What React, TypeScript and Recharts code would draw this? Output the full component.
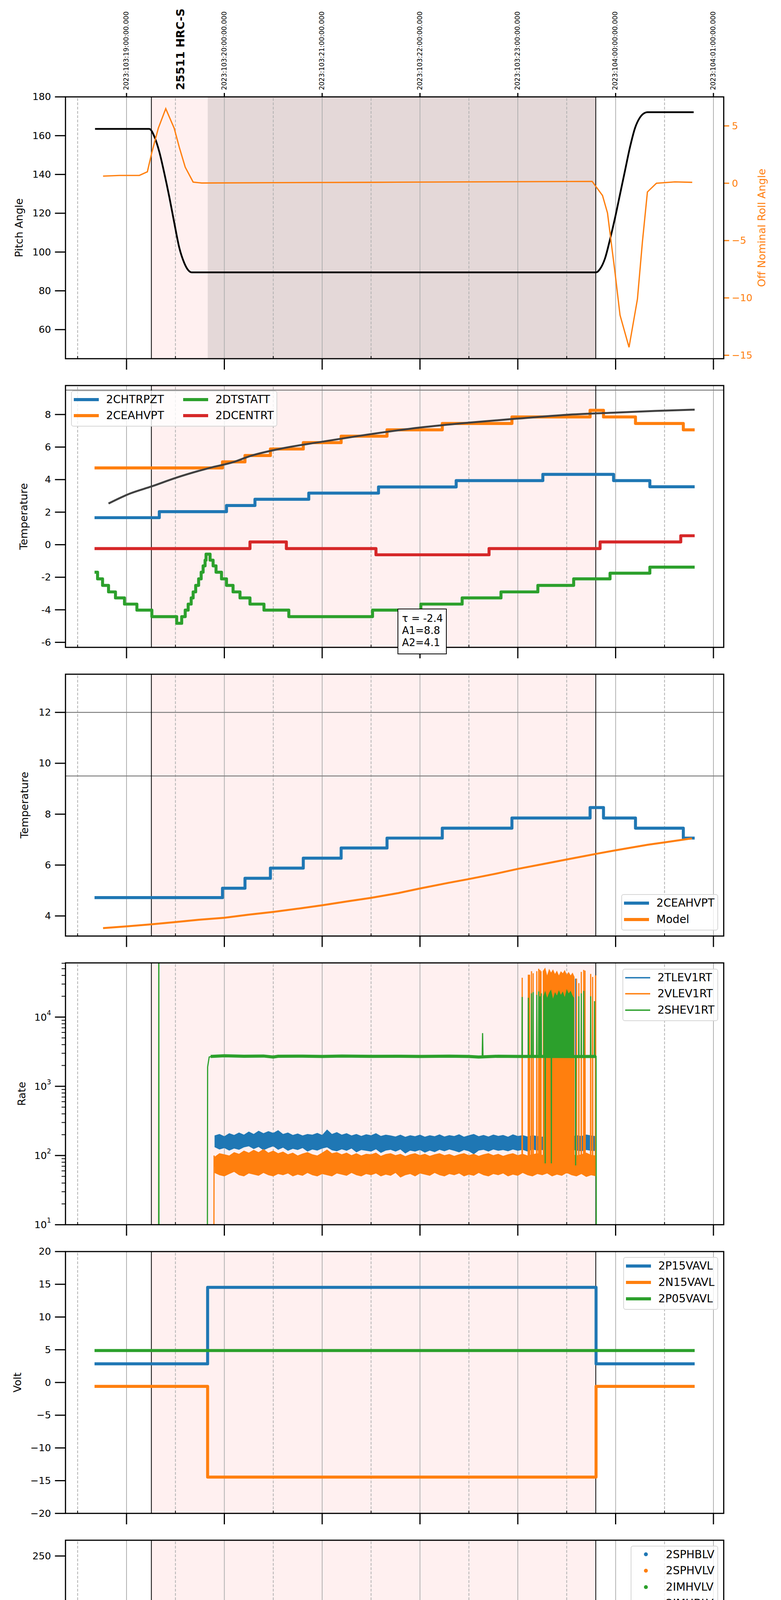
import React from 'react';
import { ComposedChart, Line, Area, Scatter, XAxis, YAxis, ReferenceLine, ReferenceArea, Legend } from 'recharts';

const FONT = "'DejaVu Sans', 'Liberation Sans', sans-serif";
const BLUE = '#1f77b4';
const ORANGE = '#ff7f0e';
const GREEN = '#2ca02c';
const RED = '#d62728';
const GRID = '#b0b0b0';
const PINK = '#fff0f0';
const DWELL = '#e4d8d8';

// ---------- shared time axis (hours of 2023-04-13) ----------
const X_DOMAIN: [number, number] = [14.376, 21.105];
const hourTicks = [15, 16, 17, 18, 19, 20, 21];
const hourLabels = ['15h', '16h', '17h', '18h', '19h', '20h', '21h'];
const halfTicks = [14.5, 15.5, 16.5, 17.5, 18.5, 19.5, 20.5];
const halfLabel = '30';
const bottomTicks = [14.5, 15, 15.5, 16, 16.5, 17, 17.5, 18, 18.5, 19, 19.5, 20, 20.5, 21];
const topTickLabels = [
  '2023:103:19:00:00.000', '2023:103:20:00:00.000', '2023:103:21:00:00.000', '2023:103:22:00:00.000',
  '2023:103:23:00:00.000', '2023:104:00:00:00.000', '2023:104:01:00:00.000',
];
const obsLabelX = 15.553;
const obsLabelText = '25511 HRC-S';
const obsStart = 15.254;
const obsEnd = 19.797;
const dwellStart = 15.83;
const xLabelText = '2023-04-13 (103)';

// ---------- panel 1: pitch / roll ----------
const pitchAngle = [[14.678,163.5],[15.233,163.5],[15.284,159.6],[15.335,151.7],[15.386,140.7],[15.437,128.5],[15.488,115.1],[15.539,102.3],[15.59,94.4],[15.63,90.7],[15.666,89.5],[19.8,89.5],[19.841,91.3],[19.892,96.8],[19.943,106.6],[19.994,117.6],[20.045,129.8],[20.096,142.0],[20.147,154.1],[20.198,163.9],[20.249,169.4],[20.3,171.8],[20.325,172.1],[20.798,172.1]];
const rollAngle = [[14.76,0.62],[14.93,0.68],[15.131,0.68],[15.213,1.0],[15.259,2.7],[15.325,4.8],[15.401,6.5],[15.487,4.8],[15.539,3.15],[15.6,1.4],[15.681,0.1],[15.768,0.02],[16.5,0.05],[17.5,0.08],[18.5,0.12],[19.76,0.16],[19.866,-1.07],[19.917,-2.6],[19.994,-7.8],[20.045,-11.5],[20.137,-14.3],[20.223,-10.1],[20.274,-5.1],[20.325,-0.76],[20.417,0.0],[20.605,0.12],[20.783,0.08]];
const pitchTicks = [60, 80, 100, 120, 140, 160, 180];
const rollTicks = [-15, -10, -5, 0, 5];

// ---------- panel 2: temperatures ----------
const chtrpzt = [[14.673,1.66],[15.335,2.03],[16.022,2.41],[16.313,2.79],[16.863,3.17],[17.576,3.55],[18.37,3.94],[19.256,4.32],[19.979,3.94],[20.35,3.56],[20.808,3.56]];
const ceahvpt = [[14.673,4.72],[15.981,5.09],[16.211,5.48],[16.471,5.88],[16.807,6.27],[17.194,6.67],[17.663,7.06],[18.228,7.45],[18.94,7.85],[19.739,8.26],[19.876,7.85],[20.203,7.45],[20.692,7.06],[20.808,7.06]];
const dtstatt = [[14.673,-1.69],[14.704,-2.1],[14.755,-2.5],[14.816,-2.9],[14.887,-3.27],[14.979,-3.65],[15.106,-4.02],[15.259,-4.42],[15.513,-4.83],[15.564,-4.42],[15.6,-4.02],[15.63,-3.65],[15.661,-3.27],[15.681,-2.9],[15.707,-2.5],[15.737,-2.1],[15.763,-1.69],[15.783,-1.3],[15.803,-0.95],[15.813,-0.58],[15.854,-0.95],[15.885,-1.3],[15.915,-1.69],[15.971,-2.1],[16.022,-2.5],[16.089,-2.9],[16.16,-3.27],[16.262,-3.65],[16.405,-4.02],[16.659,-4.42],[17.515,-4.02],[18.009,-3.65],[18.431,-3.27],[18.828,-2.9],[19.205,-2.5],[19.571,-2.1],[19.943,-1.75],[20.35,-1.38],[20.808,-1.38]];
const dcentrt = [[14.673,-0.24],[16.262,0.17],[16.634,-0.24],[17.55,-0.62],[18.706,-0.24],[19.841,0.17],[20.666,0.55],[20.808,0.55]];
const fitCurve = [[14.816,2.53],[15.03,3.13],[15.26,3.59],[15.5,4.1],[15.85,4.72],[16.1,5.09],[16.25,5.42],[16.56,5.88],[16.96,6.29],[17.37,6.68],[18.0,7.2],[18.5,7.5],[19.0,7.75],[19.5,7.98],[20.0,8.12],[20.4,8.22],[20.808,8.3]];
const p2Ticks = [-6, -4, -2, 0, 2, 4, 6, 8];
const p2Limit = 9.5;
const fitText = ['\u03c4 = -2.4', 'A1=8.8', 'A2=4.1'];

// ---------- panel 3: model ----------
const modelCurve = [[14.76,3.52],[15.0,3.59],[15.254,3.67],[15.5,3.76],[15.742,3.85],[16.0,3.93],[16.25,4.05],[16.5,4.16],[16.76,4.29],[17.0,4.42],[17.27,4.58],[17.5,4.71],[17.78,4.9],[18.0,5.08],[18.29,5.3],[18.5,5.45],[18.8,5.68],[19.0,5.85],[19.3,6.07],[19.5,6.22],[19.8,6.44],[20.0,6.58],[20.33,6.8],[20.5,6.89],[20.78,7.05]];
const p3Ticks = [4, 6, 8, 10, 12];
const p3Limits = [12, 9.5];

// ---------- panel 4: rates (log) ----------
const rateT = [15.90,15.95,16.00,16.05,16.10,16.15,16.20,16.25,16.30,16.35,
  16.40,16.45,16.50,16.55,16.60,16.65,16.70,16.75,16.80,16.85,
  16.90,16.95,17.00,17.05,17.10,17.15,17.20,17.25,17.30,17.35,
  17.40,17.45,17.50,17.55,17.60,17.65,17.70,17.75,17.80,17.85,
  17.90,17.95,18.00,18.05,18.10,18.15,18.20,18.25,18.30,18.35,
  18.40,18.45,18.50,18.55,18.60,18.65,18.70,18.75,18.80,18.85,
  18.90,18.95,19.00,19.05,19.10,19.15,19.20,19.25,19.30,19.35,
  19.40,19.45,19.50,19.55,19.60,19.65,19.70,19.75,19.80];
const tlevHi = [195,205,190,210,198,215,200,222,205,228,
  210,225,212,232,205,215,198,208,195,205,
  200,212,198,238,205,218,200,210,195,205,
  192,203,196,210,192,200,195,188,200,186,
  196,190,200,187,196,190,202,188,197,191,
  203,187,196,205,190,198,188,201,192,198,
  187,202,191,197,188,196,191,187,197,190,
  186,196,190,187,197,191,201,195,190];
const tlevLo = [132,122,128,118,126,121,131,136,124,133,
  119,128,136,121,130,117,125,120,128,114,
  122,118,126,131,119,115,123,117,126,111,
  120,117,114,123,109,118,121,114,122,107,
  118,114,120,110,118,112,121,115,122,117,
  111,120,115,104,118,121,114,122,117,120,
  115,122,117,121,114,122,118,120,115,122,
  117,121,114,122,118,115,120,117,116];
const vlevHi = [96,108,104,100,112,106,118,110,121,112,
  124,110,118,108,114,104,110,100,107,112,
  104,100,110,122,108,112,104,110,101,108,
  100,106,104,110,99,105,108,101,106,98,
  104,108,101,106,99,104,108,101,105,99,
  104,108,101,106,99,104,108,101,106,99,
  104,108,101,106,100,104,108,102,106,100,
  104,108,102,106,100,104,110,102,100];
const vlevLo = [56,52,50,54,58,52,50,55,53,51,
  56,52,50,54,52,55,50,53,51,56,
  52,50,54,52,50,55,53,51,56,52,
  50,54,52,55,50,53,51,56,48,52,
  54,50,55,53,51,56,52,50,54,52,
  55,50,53,51,56,52,50,54,52,55,
  50,53,51,56,52,50,54,52,55,50,
  53,51,56,52,50,54,49,52,50];
const shevBase = [[15.86,2700],[16.0,2760],[16.2,2720],[16.4,2740],[16.5,2650],[16.55,2720],[16.8,2730],[17.0,2700],[17.2,2740],[17.5,2710],[17.8,2720],[18.0,2700],[18.3,2730],[18.5,2700],[18.6,2650],[18.8,2720],[19.0,2700],[19.3,2700],[19.6,2690],[19.8,2700]];
const shevSpikes = [[15.328,1],[15.33,1e6],[15.332,1],[15.826,1],[15.829,1900],[15.845,2650],[15.87,2700],
  [18.636,2700],[18.64,5860],[18.644,2700],
  [19.043,2700],[19.045,19500],[19.047,2700],[19.106,2700],[19.108,19000],[19.11,2700],
  [19.138,2700],[19.14,22000],[19.142,2700],[19.155,2700],[19.157,23000],[19.159,2700],
  [19.192,2700],[19.194,21000],[19.196,2700],[19.212,2700],[19.214,23500],[19.216,2700],
  [19.225,2700],[19.227,20000],[19.229,2700],[19.238,2700],[19.24,22000],[19.242,2700],
  [19.278,2700],[19.28,77],[19.282,2700],[19.341,2700],[19.343,77],[19.345,2700],
  [19.589,2700],[19.591,72],[19.593,2700],[19.622,2700],[19.624,20000],[19.626,2700],
  [19.647,2700],[19.649,22000],[19.651,2700],[19.672,2700],[19.674,24000],[19.676,2700],
  [19.743,2700],[19.745,20000],[19.747,2700],[19.783,2700],[19.785,17000],[19.787,2700],
  [19.8,2700],[19.803,1]];
const shevBlock = [[19.26,2700,20000],[19.28,2700,24000],[19.30,2700,19000],[19.32,2700,22500],[19.34,2700,25000],[19.36,2700,18500],[19.38,2700,23000],[19.40,2700,20500],[19.42,2700,24500],[19.44,2700,21000],[19.46,2700,23500],[19.48,2700,19500],[19.50,2700,25500],[19.52,2700,22000],[19.54,2700,24000],[19.56,2700,20500],[19.575,2700,19000]];
const vlevBlock = [[19.255,55,46000],[19.28,55,52000],[19.30,55,40000],[19.32,55,50000],[19.34,55,44000],[19.36,55,49000],[19.38,55,42000],[19.40,55,47000],[19.42,55,40000],[19.44,55,46000],[19.46,55,43000],[19.48,55,48000],[19.50,55,41000],[19.52,55,45000],[19.54,55,40000],[19.56,55,44000],[19.58,55,38000]];
const vlevSpikes = [[15.892,1],[15.895,100],[15.898,70],
  [19.043,80],[19.045,37000],[19.047,80],[19.106,80],[19.108,41000],[19.11,80],[19.118,80],[19.12,41000],[19.122,80],
  [19.138,80],[19.14,46000],[19.142,80],[19.155,80],[19.157,43000],[19.159,80],[19.192,80],[19.194,46000],[19.196,80],
  [19.212,80],[19.214,50000],[19.216,80],[19.225,80],[19.227,48000],[19.229,80],[19.235,80],[19.237,46000],[19.239,80],
  [19.598,80],[19.6,36000],[19.602,80],[19.622,80],[19.624,31000],[19.626,80],[19.647,80],[19.649,45000],[19.651,80],
  [19.672,80],[19.674,48000],[19.676,80],[19.685,80],[19.687,47000],[19.689,80],[19.743,80],[19.745,42000],[19.747,80],
  [19.763,80],[19.765,38000],[19.767,80],[19.793,80],[19.795,40000],[19.797,60]];
const tlevSpikes = [[19.588,180],[19.59,36000],[19.592,180]];
const logTicks = [10,20,30,40,50,60,70,80,90,100,200,300,400,500,600,700,800,900,1000,2000,3000,4000,5000,6000,7000,8000,9000,10000,20000,30000,40000,50000,60000];
const logMajor = [10, 100, 1000, 10000];

// ---------- panel 5: voltages ----------
const p15vavl = [[14.673,2.85],[15.829,14.53],[19.8,2.85],[20.808,2.85]];
const n15vavl = [[14.673,-0.6],[15.829,-14.45],[19.8,-0.6],[20.808,-0.6]];
const p05vavl = [[14.673,4.88],[20.808,4.88]];
const p5Ticks = [-20, -15, -10, -5, 0, 5, 10, 15, 20];

// ---------- panel 6: HV monitor ----------
const sphblvBand = [[15.895,77.3],[19.8,77.3]];
const sphblvPts = [[15.853,118],[15.857,102],[15.859,101],[15.864,97],[15.868,92],[15.873,87],[15.878,82],[15.884,79]];
const sphvlvBand = [[15.89,70.7],[19.8,70.7]];
const sphvlvPts = [[15.849,127],[15.85,125],[15.851,123],[15.856,96],[15.861,91],[15.866,86],[15.871,80],[15.876,75],
  [19.119,127],[19.135,127],[19.15,127],[19.17,127],[19.185,127],[19.2,127],[19.215,127],[19.23,127],[19.25,127],[19.27,127],
  [19.29,127],[19.31,127],[19.33,127],[19.35,127],[19.37,127],[19.39,127],[19.41,127],[19.43,127],[19.45,127],[19.627,127],[19.76,127]];
const p6Ticks = [0, 50, 100, 150, 200, 250];

// ---------- panel 7: detector temps ----------
const spinatm = [[15.854,7.07],[15.885,6.53],[15.915,6.05],[15.956,5.55],[15.991,5.09],[16.048,4.6],[16.109,4.15],[16.195,3.7],[16.297,3.26],[16.481,2.82],[16.858,2.35],[19.077,2.82],[19.79,2.82]];
const spinBlock = [[19.042,-3,2.82],[19.79,-3,2.82]];
const sphvatm = [[15.829,13.7],[15.835,14.13],[15.981,14.45],[16.048,14.75],[16.114,15.01],[16.19,15.27],[16.252,15.56],[16.328,15.82],[16.415,16.1],[16.506,16.39],[16.608,16.67],[16.751,16.96],[16.878,17.25],[17.031,17.54],[17.215,17.83],[17.459,18.11],[17.677,18.41],[17.92,18.72],[17.925,18.41],[17.958,18.69],[18.324,18.97],[18.823,19.28],
  [19.042,10.4],[19.047,19.57],[19.103,10.4],[19.108,19.57],[19.128,10.4],[19.133,19.57],[19.153,10.4],[19.158,19.57],[19.194,10.4],[19.199,19.57],[19.23,10.4],[19.235,19.57],[19.281,2.8],[19.285,19.57],[19.587,2.8],[19.591,19.57],[19.765,10.4],[19.77,19.57],[19.79,19.57]];
const sphvBlock = [[19.255,10.45,19.57],[19.536,10.45,19.57],[19.537,19.57,19.57],[19.56,19.57,19.57],[19.561,10.45,19.57],[19.689,10.45,19.57]];
const iminatm = [[15.829,-0.22],[16.497,0.23],[18.671,0.65],[19.79,0.65]];
const iminBlock = [[19.042,0.65,2.82],[19.79,0.65,2.82]];
const imhvatm = [[15.826,-5],[15.829,13.59],[16.302,13.88],[16.593,14.17],[16.924,14.43],[17.245,14.73],[17.612,14.99],[18.009,15.27],[18.37,15.6],[18.375,15.27],[18.492,15.56],
  [19.045,19.4],[19.05,15.86],[19.103,19.55],[19.108,15.86],[19.128,19.55],[19.133,15.86],[19.57,19.55],[19.575,15.86],[19.6,19.55],[19.605,15.86],[19.625,19.55],[19.63,15.86],[19.66,19.55],[19.665,15.86],[19.69,19.55],[19.695,15.86],[19.714,16.12],[19.8,25],[19.803,-5],[19.81,-5]];
const imhvBlock = [[19.18,15.86,19.55],[19.54,15.86,19.55]];
const p7Ticks = [0, 2.5, 5, 7.5, 10, 12.5, 15, 17.5, 20];

// ---------- panel 8: FEA temps ----------
const fhtrmzt = [[14.673,-8.81],[16.042,-8.38],[16.2,-7.98],[16.369,-7.58],[16.532,-7.17],[16.695,-6.77],[16.863,-6.38],[17.041,-5.98],[17.22,-5.58],[17.398,-5.19],[17.601,-4.8],[17.795,-4.42],[17.999,-4.02],[18.212,-3.65],[18.431,-3.26],[18.656,-2.88],[18.884,-2.51],[19.128,-2.14],[19.357,-1.76],[19.612,-1.38],[20.386,-1.75],[20.808,-1.75]];
const fradpyt = [[14.673,-10.49],[15.64,-11.3],[16.15,-10.49],[16.338,-10.05],[16.522,-9.63],[16.71,-9.22],[16.904,-8.8],[17.108,-8.4],[17.306,-7.98],[17.525,-7.58],[17.739,-7.17],[17.958,-6.77],[18.202,-6.38],[18.452,-5.98],[18.696,-5.58],[18.95,-5.19],[19.23,-4.8],[19.51,-4.44],[19.79,-4.04],[20.086,-3.66],[20.35,-4.04],[20.808,-4.04]];
const fepratm = [[15.844,-7.43],[15.88,-6.94],[15.915,-6.57],[15.961,-6.17],[16.022,-5.78],[16.094,-5.37],[16.185,-5.0],[16.297,-4.61],[16.43,-4.19],[16.557,-3.8],[16.705,-3.42],[16.873,-3.01],[17.041,-2.61],[17.23,-2.22],[17.434,-1.8],[17.637,-1.39],[17.841,-0.99],[18.08,-0.6],[18.315,-0.17],[18.57,0.26],[18.833,0.66],
  [19.032,-4.66],[19.038,1.2],[19.092,-4.66],[19.098,1.2],[19.117,-4.66],[19.123,1.2],[19.152,-4.66],[19.158,1.2],[19.192,-4.66],[19.198,1.2],[19.227,-4.66],[19.233,1.2],
  [19.255,-4.66],[19.51,1.2],[19.557,-4.66],[19.563,1.2],[19.587,-4.66],[19.593,1.2],[19.617,-4.66],[19.623,1.2],[19.657,-4.66],[19.663,1.2],[19.707,-4.66],[19.713,1.2],[19.737,-4.66],[19.743,1.2],[19.762,-4.66],[19.766,1.2]];
const feprBlock = [[19.255,-4.66,1.5],[19.51,-4.66,1.5]];
const fe00atm = [[15.826,-12],[15.829,-6.72],[15.971,-6.34],[16.064,-5.58],[16.069,-6.34],[16.109,-5.97],[16.185,-7.13],[16.19,-5.97],[16.2,-5.6],[16.302,-5.22],[16.364,-4.5],[16.369,-5.22],[16.415,-4.87],[16.532,-4.51],[16.634,-5.3],[16.639,-4.51],[16.659,-4.16],[16.675,-3.8],[16.68,-4.16],[16.787,-3.82],[16.914,-3.47],[17.052,-3.12],[17.108,-3.9],[17.113,-3.12],[17.194,-2.79],[17.347,-2.45],[17.484,-2.11],[17.637,-1.77],[17.663,-2.5],[17.668,-1.77],[17.754,-1.4],[17.759,-1.77],[17.82,-1.45],[17.88,-1.1],[17.885,-1.45],[17.973,-1.12],[18.146,-0.8],[18.212,-0.45],[18.217,-0.8],[18.228,-1.85],[18.233,-0.8],[18.329,-0.47],[18.518,-0.15],[18.686,0.17],[18.889,0.49],[19.042,2.5],[19.047,0.8],[19.1,2.5],[19.105,0.8],[19.145,0.1],[19.15,0.8],[19.18,1.05],[19.281,-12],[19.286,1.05],[19.587,-12],[19.592,1.05],[19.72,1.6],[19.8,-12],[19.81,-12]];
const fe00Block = [[19.18,1.05,2.5],[19.72,1.05,2.5]];
const p8Ticks = [-10, -8, -6, -4, -2, 0];

// ---------- layout ----------
const PLOT_LEFT = 167.7;
const RIGHT_M = 146.7;
const PLOT_H = 670.3;
const TOP0 = 248;
const STEP = 738.9;
const MT = 20;
const XH = 40;
const LW = 7.7;

const xy = (a: number[][]) => a.map(([x, y]) => ({ x, y }));
const band = (a: number[][]) => a.map(([x, lo, hi]) => ({ x, y: [lo, hi] }));
const bandFrom = (t: number[], lo: number[], hi: number[]) => t.map((x, i) => ({ x, y: [lo[i], hi[i]] }));

const fmtPlain = (v: number) => String(v);
const fmtMinus = (v: number) => (v < 0 ? '\u2212' + String(-v) : String(v));
const fmtOne = (v: number) => v.toFixed(1);
const fmtLog = (v: number) => [
  <tspan key="b">10</tspan>,
  <tspan key="e" dy={-11} fontSize={17}>{String(Math.round(Math.log10(v)))}</tspan>,
];

function XTickBottom(props: any) {
  const { x, y, payload, showLabels } = props;
  const v: number = payload.value;
  const hi = hourTicks.indexOf(v);
  const major = hi >= 0;
  return (
    <g>
      {major
        ? <line x1={x} x2={x} y1={y} y2={y + 28} stroke="#000" strokeWidth={3} />
        : <line x1={x} x2={x} y1={y - 7} y2={y} stroke="#000" strokeWidth={2} />}
      {showLabels ? (major
        ? <text x={x} y={y + 60} textAnchor="middle" fontSize={29} fontFamily={FONT} fill="#000">{hourLabels[hi]}</text>
        : <text x={x} y={y + 21} textAnchor="middle" fontSize={17} fontFamily={FONT} fill="#000">{halfLabel}</text>) : null}
    </g>
  );
}

function XTickTop(props: any) {
  const { x, y, payload } = props;
  const v: number = payload.value;
  const idx = hourTicks.indexOf(v);
  if (idx < 0) {
    return (
      <text transform={`translate(${x},${y - 17.5}) rotate(-90)`} textAnchor="start" dominantBaseline="central"
        fontSize={28.5} fontWeight="bold" fontFamily={FONT} fill="#000">{obsLabelText}</text>
    );
  }
  return (
    <g>
      <line x1={x} x2={x} y1={y - 10} y2={y} stroke="#000" strokeWidth={3} />
      <text transform={`translate(${x - 1},${y - 17.5}) rotate(-90)`} textAnchor="start" dominantBaseline="central"
        fontSize={17} fontFamily={FONT} fill="#000">{topTickLabels[idx]}</text>
    </g>
  );
}

function YTickLeft(props: any) {
  const { x, y, payload, fmt, minorFn } = props;
  const v: number = payload.value;
  const minor = minorFn ? minorFn(v) : false;
  return (
    <g>
      <line x1={x - (minor ? 10 : 27)} x2={x} y1={y} y2={y} stroke="#000" strokeWidth={minor ? 2 : 3} />
      {!minor && (
        <text x={x - 37} y={y} textAnchor="end" dominantBaseline="central" fontSize={25} fontFamily={FONT} fill="#000">{fmt(v)}</text>
      )}
    </g>
  );
}

function YTickRight(props: any) {
  const { x, y, payload } = props;
  const v: number = payload.value;
  return (
    <g>
      <line x1={x} x2={x + 14} y1={y} y2={y} stroke={ORANGE} strokeWidth={3} />
      <text x={x + 21} y={y} textAnchor="start" dominantBaseline="central" fontSize={25} fontFamily={FONT} fill={ORANGE}>{fmtMinus(v)}</text>
    </g>
  );
}

function AxisTitle(props: any) {
  const { tx, ty, text, color } = props;
  return (
    <text x={tx} y={ty} transform={`rotate(-90 ${tx} ${ty})`} textAnchor="middle" dominantBaseline="central"
      fontSize={27} fontFamily={FONT} fill={color || '#000'}>{text}</text>
  );
}

function PlainText(props: any) {
  const { tx, ty, text, size } = props;
  return <text x={tx} y={ty} textAnchor="middle" fontSize={size} fontFamily={FONT} fill="#000">{text}</text>;
}

type LegendItem = { label: string; color: string; kind?: 'line' | 'dot'; lw?: number };

function LegendBox({ items, rows }: { items: LegendItem[]; rows?: number }) {
  const multi = rows !== undefined;
  return (
    <div style={{
      display: 'grid',
      gridAutoFlow: multi ? 'column' : 'row',
      gridTemplateRows: multi ? `repeat(${rows}, 41.8px)` : undefined,
      gridAutoRows: '41.8px',
      columnGap: 49,
      padding: '0px 7px 5px 5px',
      border: '2px solid #d6d6d6',
      borderRadius: 6,
      background: 'rgba(255,255,255,0.8)',
      fontFamily: FONT,
      fontSize: 28,
      color: '#000',
      whiteSpace: 'nowrap',
    }}>
      {items.map((it) => (
        <div key={it.label} style={{ display: 'flex', alignItems: 'center', height: 41.8 }}>
          <svg width={64} height={20} style={{ flex: 'none', marginRight: 18.7, display: 'block' }}>
            {it.kind === 'dot'
              ? <circle cx={32} cy={10} r={5} fill={it.color} />
              : <line x1={0} x2={64} y1={10} y2={10} stroke={it.color} strokeWidth={it.lw ?? 8} />}
          </svg>
          <span style={{ lineHeight: '41.8px' }}>{it.label}</span>
        </div>
      ))}
    </div>
  );
}

function legendAt(pos: React.CSSProperties, items: LegendItem[], rows?: number) {
  return (
    <Legend key="lg" layout="vertical" align="center" verticalAlign="middle"
      wrapperStyle={{ left: 'auto', right: 'auto', top: 'auto', bottom: 'auto', width: 'auto', height: 'auto', margin: 0, padding: 0, lineHeight: 'normal', ...pos }}
      content={() => <LegendBox items={items} rows={rows} />} />
  );
}

function backLayers(yId: string | number, dwell: boolean) {
  const els: React.ReactElement[] = [
    <ReferenceArea key="obs" yAxisId={yId} x1={obsStart} x2={obsEnd} fill={PINK} fillOpacity={1} stroke="none" ifOverflow="visible" zIndex={-300} />,
  ];
  if (dwell) {
    els.push(<ReferenceArea key="dwell" yAxisId={yId} x1={dwellStart} x2={obsEnd} fill={DWELL} fillOpacity={1} stroke="none" ifOverflow="visible" zIndex={-300} />);
  }
  hourTicks.forEach((h) => els.push(
    <ReferenceLine key={'h' + h} yAxisId={yId} x={h} stroke={GRID} strokeWidth={2} zIndex={-200} />));
  halfTicks.forEach((h) => els.push(
    <ReferenceLine key={'m' + h} yAxisId={yId} x={h} stroke={GRID} strokeWidth={2} strokeDasharray="7 4" zIndex={-200} />));
  [obsStart, obsEnd].forEach((h) => els.push(
    <ReferenceLine key={'b' + h} yAxisId={yId} x={h} stroke="#000" strokeWidth={2} zIndex={-100} />));
  return els;
}

function frame(yId: string | number) {
  return <ReferenceArea key="frame" yAxisId={yId} x1={X_DOMAIN[0]} x2={X_DOMAIN[1]} fill="none" stroke="#000" strokeWidth={3} ifOverflow="visible" zIndex={3000} />;
}

function bottomAxis(showLabels: boolean, height: number, label?: React.ReactElement) {
  return (
    <XAxis key="xb" xAxisId={0} orientation="bottom" dataKey="x" type="number" domain={X_DOMAIN} allowDataOverflow
      ticks={bottomTicks} interval={0} height={height} axisLine={false} tickLine={false} tickSize={0} tickMargin={0}
      tick={(p: any) => <XTickBottom {...p} showLabels={showLabels} />} label={label} />
  );
}

function leftAxis(o: { domain: [number, number]; ticks: number[]; fmt: (v: number) => any; title: string; titleX: number; mt: number; id?: string | number; log?: boolean; minor?: (v: number) => boolean }) {
  return (
    <YAxis key="yl" yAxisId={o.id ?? 0} orientation="left" type="number" scale={o.log ? 'log' : 'linear'} domain={o.domain} allowDataOverflow
      ticks={o.ticks} interval={0} width={PLOT_LEFT} axisLine={false} tickLine={false} tickSize={0} tickMargin={0}
      tick={(p: any) => <YTickLeft {...p} fmt={o.fmt} minorFn={o.minor} />}
      label={<AxisTitle tx={o.titleX} ty={o.mt + PLOT_H / 2} text={o.title} />} />
  );
}

const stepLine = (key: string, data: number[][], color: string, z: number, width = LW) => (
  <Line key={key} data={xy(data)} dataKey="y" type="stepAfter" stroke={color} strokeWidth={width} strokeLinejoin="round"
    dot={false} activeDot={false} isAnimationActive={false} zIndex={z} />
);
const rangeArea = (key: string, data: any[], color: string, z: number) => (
  <Area key={key} data={data} dataKey="y" type="linear" stroke="none" fill={color} fillOpacity={1}
    dot={false} activeDot={false} isAnimationActive={false} zIndex={z} />
);

const chartTop = (k: number) => TOP0 + STEP * k - MT;
const CH = MT + PLOT_H + XH;
const dotShape = (color: string) => (p: any) => <circle cx={p.cx} cy={p.cy} r={5} fill={color} />;

function Panel1() {
  return (
    <ComposedChart width={2000} height={TOP0 + PLOT_H + XH} margin={{ top: 0, right: 0, bottom: 0, left: 0 }} style={{ fontFamily: FONT }}>
      <XAxis xAxisId="top" orientation="top" dataKey="x" type="number" domain={X_DOMAIN} allowDataOverflow
        ticks={[...hourTicks, obsLabelX]} interval={0} height={TOP0} axisLine={false} tickLine={false} tickSize={0} tickMargin={0}
        tick={(p: any) => <XTickTop {...p} />} />
      {bottomAxis(false, XH)}
      {leftAxis({ id: 'left', domain: [45, 180], ticks: pitchTicks, fmt: fmtPlain, title: 'Pitch Angle', titleX: 48.5, mt: TOP0 })}
      <YAxis yAxisId="right" orientation="right" type="number" domain={[-15.3, 7.53]} allowDataOverflow ticks={rollTicks} interval={0}
        width={RIGHT_M} axisLine={false} tickLine={false} tickSize={0} tickMargin={0} tick={(p: any) => <YTickRight {...p} />}
        label={<AxisTitle tx={1951} ty={TOP0 + PLOT_H / 2} text="Off Nominal Roll Angle" color={ORANGE} />} />
      {backLayers('left', true)}
      <Line yAxisId="left" data={xy(pitchAngle)} dataKey="y" type="monotone" stroke="#000" strokeWidth={4.5} dot={false} activeDot={false} isAnimationActive={false} zIndex={401} />
      <Line yAxisId="right" data={xy(rollAngle)} dataKey="y" type="linear" stroke={ORANGE} strokeWidth={3.3} dot={false} activeDot={false} isAnimationActive={false} zIndex={402} />
      {frame('left')}
    </ComposedChart>
  );
}

function Panel2() {
  return (
    <ComposedChart width={2000} height={CH} margin={{ top: MT, right: RIGHT_M, bottom: 0, left: 0 }} style={{ fontFamily: FONT }}>
      {bottomAxis(false, XH)}
      {leftAxis({ domain: [-6.31, 9.78], ticks: p2Ticks, fmt: fmtPlain, title: 'Temperature', titleX: 61, mt: MT })}
      {backLayers(0, false)}
      <ReferenceLine y={p2Limit} stroke="#808080" strokeWidth={2.5} zIndex={-150} />
      {stepLine('chtrpzt', chtrpzt, BLUE, 401)}
      {stepLine('ceahvpt', ceahvpt, ORANGE, 402)}
      {stepLine('dtstatt', dtstatt, GREEN, 403)}
      {stepLine('dcentrt', dcentrt, RED, 404)}
      <Line data={xy(fitCurve)} dataKey="y" type="monotone" stroke="#404040" strokeWidth={5} dot={false} activeDot={false} isAnimationActive={false} zIndex={405} />
      {frame(0)}
      {legendAt({ top: 999.7 - chartTop(1), left: 182 }, [
        { label: '2CHTRPZT', color: BLUE }, { label: '2CEAHVPT', color: ORANGE },
        { label: '2DTSTATT', color: GREEN }, { label: '2DCENTRT', color: RED },
      ], 2)}
    </ComposedChart>
  );
}

function Panel3() {
  return (
    <ComposedChart width={2000} height={CH} margin={{ top: MT, right: RIGHT_M, bottom: 0, left: 0 }} style={{ fontFamily: FONT }}>
      {bottomAxis(false, XH)}
      {leftAxis({ domain: [3.21, 13.5], ticks: p3Ticks, fmt: fmtPlain, title: 'Temperature', titleX: 63, mt: MT })}
      {backLayers(0, false)}
      {p3Limits.map((v) => <ReferenceLine key={'lim' + v} y={v} stroke="#808080" strokeWidth={2.5} zIndex={-150} />)}
      {stepLine('ceahvpt3', ceahvpt, BLUE, 401)}
      <Line data={xy(modelCurve)} dataKey="y" type="linear" stroke={ORANGE} strokeWidth={5} dot={false} activeDot={false} isAnimationActive={false} zIndex={402} />
      {frame(0)}
      {legendAt({ bottom: CH - (2381.6 - chartTop(2)), right: 161.5 }, [
        { label: '2CEAHVPT', color: BLUE }, { label: 'Model', color: ORANGE },
      ])}
    </ComposedChart>
  );
}

function Panel4() {
  return (
    <ComposedChart width={2000} height={CH} margin={{ top: MT, right: RIGHT_M, bottom: 0, left: 0 }} style={{ fontFamily: FONT }}>
      {bottomAxis(false, XH)}
      {leftAxis({ domain: [10, 60700], ticks: logTicks, fmt: fmtLog, title: 'Rate', titleX: 56, mt: MT, log: true, minor: (v) => logMajor.indexOf(v) < 0 })}
      {backLayers(0, false)}
      {rangeArea('tlevBand', bandFrom(rateT, tlevLo, tlevHi), BLUE, 401)}
      <Line data={xy(tlevSpikes)} dataKey="y" type="linear" stroke={BLUE} strokeWidth={2.5} dot={false} activeDot={false} isAnimationActive={false} zIndex={402} />
      {rangeArea('vlevBand', bandFrom(rateT, vlevLo, vlevHi), ORANGE, 403)}
      {rangeArea('vlevBlock', band(vlevBlock), ORANGE, 404)}
      <Line data={xy(vlevSpikes)} dataKey="y" type="linear" stroke={ORANGE} strokeWidth={3} dot={false} activeDot={false} isAnimationActive={false} zIndex={405} />
      {rangeArea('shevBlock', band(shevBlock), GREEN, 406)}
      <Line data={xy(shevBase)} dataKey="y" type="linear" stroke={GREEN} strokeWidth={8} dot={false} activeDot={false} isAnimationActive={false} zIndex={407} />
      <Line data={xy(shevSpikes)} dataKey="y" type="linear" stroke={GREEN} strokeWidth={3} dot={false} activeDot={false} isAnimationActive={false} zIndex={408} />
      {frame(0)}
      {legendAt({ top: 2479.7 - chartTop(3), right: 161.5 }, [
        { label: '2TLEV1RT', color: BLUE, lw: 3.5 }, { label: '2VLEV1RT', color: ORANGE, lw: 3.5 }, { label: '2SHEV1RT', color: GREEN, lw: 3.5 },
      ])}
    </ComposedChart>
  );
}

function Panel5() {
  return (
    <ComposedChart width={2000} height={CH} margin={{ top: MT, right: RIGHT_M, bottom: 0, left: 0 }} style={{ fontFamily: FONT }}>
      {bottomAxis(false, XH)}
      {leftAxis({ domain: [-20, 20], ticks: p5Ticks, fmt: fmtMinus, title: 'Volt', titleX: 45, mt: MT })}
      {backLayers(0, false)}
      {stepLine('p15', p15vavl, BLUE, 401)}
      {stepLine('n15', n15vavl, ORANGE, 402)}
      {stepLine('p05', p05vavl, GREEN, 403)}
      {frame(0)}
      {legendAt({ top: 3218.4 - chartTop(4), right: 161.5 }, [
        { label: '2P15VAVL', color: BLUE }, { label: '2N15VAVL', color: ORANGE }, { label: '2P05VAVL', color: GREEN },
      ])}
    </ComposedChart>
  );
}

function Panel6() {
  return (
    <ComposedChart width={2000} height={CH} margin={{ top: MT, right: RIGHT_M, bottom: 0, left: 0 }} style={{ fontFamily: FONT }}>
      {bottomAxis(false, XH)}
      {leftAxis({ domain: [0, 266], ticks: p6Ticks, fmt: fmtPlain, title: 'HV Monitor', titleX: 51, mt: MT })}
      {backLayers(0, false)}
      <Line data={xy(sphblvBand)} dataKey="y" type="linear" stroke={BLUE} strokeWidth={14} strokeLinecap="round" dot={false} activeDot={false} isAnimationActive={false} zIndex={401} />
      <Scatter data={xy(sphblvPts)} dataKey="y" fill={BLUE} shape={dotShape(BLUE)} isAnimationActive={false} zIndex={402} />
      <Line data={xy(sphvlvBand)} dataKey="y" type="linear" stroke={ORANGE} strokeWidth={12} strokeLinecap="round" dot={false} activeDot={false} isAnimationActive={false} zIndex={403} />
      <Scatter data={xy(sphvlvPts)} dataKey="y" fill={ORANGE} shape={dotShape(ORANGE)} isAnimationActive={false} zIndex={404} />
      {frame(0)}
      {legendAt({ top: 3956.5 - chartTop(5), right: 161.5 }, [
        { label: '2SPHBLV', color: BLUE, kind: 'dot' }, { label: '2SPHVLV', color: ORANGE, kind: 'dot' },
        { label: '2IMHVLV', color: GREEN, kind: 'dot' }, { label: '2IMHBLV', color: RED, kind: 'dot' },
      ])}
    </ComposedChart>
  );
}

function Panel7() {
  return (
    <ComposedChart width={2000} height={CH} margin={{ top: MT, right: RIGHT_M, bottom: 0, left: 0 }} style={{ fontFamily: FONT }}>
      {bottomAxis(false, XH)}
      {leftAxis({ domain: [-1.28, 20.48], ticks: p7Ticks, fmt: fmtOne, title: 'Detector Temp', titleX: 42, mt: MT })}
      {backLayers(0, false)}
      {rangeArea('spinBlock', band(spinBlock), BLUE, 401)}
      {stepLine('spinatm', spinatm, BLUE, 402)}
      {rangeArea('sphvBlock', band(sphvBlock), ORANGE, 403)}
      {stepLine('sphvatm', sphvatm, ORANGE, 404)}
      {rangeArea('iminBlock', band(iminBlock), GREEN, 405)}
      {stepLine('iminatm', iminatm, GREEN, 406)}
      {rangeArea('imhvBlock', band(imhvBlock), RED, 407)}
      {stepLine('imhvatm', imhvatm, RED, 408)}
      {frame(0)}
      {legendAt({ top: 4695.5 - chartTop(6), right: 161.5 }, [
        { label: '2SPINATM', color: BLUE }, { label: '2SPHVATM', color: ORANGE }, { label: '2IMINATM', color: GREEN }, { label: '2IMHVATM', color: RED },
      ])}
    </ComposedChart>
  );
}

const LAST_XH = 109.7;
const LAST_CH = MT + PLOT_H + LAST_XH;

function Panel8() {
  return (
    <ComposedChart width={2000} height={LAST_CH} margin={{ top: MT, right: RIGHT_M, bottom: 0, left: 0 }} style={{ fontFamily: FONT }}>
      {bottomAxis(true, LAST_XH, <PlainText tx={1010.5} ty={6189 - chartTop(7)} text={xLabelText} size={33} />)}
      {leftAxis({ domain: [-10.72, 1.73], ticks: p8Ticks, fmt: fmtPlain, title: 'FEA Temp', titleX: 45, mt: MT })}
      {backLayers(0, false)}
      {stepLine('fhtrmzt', fhtrmzt, BLUE, 401)}
      {stepLine('fradpyt', fradpyt, ORANGE, 402)}
      {rangeArea('feprBlock', band(feprBlock), GREEN, 403)}
      {stepLine('fepratm', fepratm, GREEN, 404)}
      {rangeArea('fe00Block', band(fe00Block), RED, 405)}
      {stepLine('fe00atm', fe00atm, RED, 406)}
      {frame(0)}
      {legendAt({ bottom: LAST_CH - (6077.2 - chartTop(7)), right: 161.5 }, [
        { label: '2FHTRMZT', color: BLUE }, { label: '2FRADPYT', color: ORANGE }, { label: '2FEPRATM', color: GREEN }, { label: '2FE00ATM', color: RED },
      ])}
    </ComposedChart>
  );
}

export default function App() {
  const panels = [Panel2, Panel3, Panel4, Panel5, Panel6, Panel7, Panel8];
  return (
    <div style={{ position: 'relative', width: 2000, height: 6200, margin: -8, background: '#fff', overflow: 'hidden', fontFamily: FONT }}>
      <div style={{ position: 'absolute', left: 0, top: 0 }}><Panel1 /></div>
      {panels.map((P, i) => (
        <div key={i} style={{ position: 'absolute', left: 0, top: chartTop(i + 1) }}><P /></div>
      ))}
      <div style={{
        position: 'absolute', left: 1018, top: 1558.4, width: 126, height: 116.2, boxSizing: 'border-box',
        border: '2.5px solid #000', background: '#fff', paddingTop: 7.2, paddingLeft: 9.5,
        fontFamily: FONT, fontSize: 26, lineHeight: '31.2px', color: '#000', whiteSpace: 'nowrap',
      }}>
        {fitText.map((t) => <div key={t}>{t}</div>)}
      </div>
    </div>
  );
}
